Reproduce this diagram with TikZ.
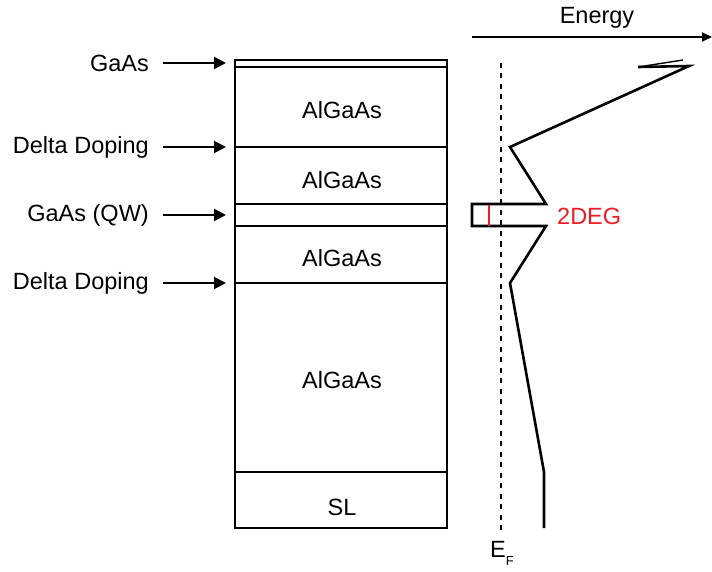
\documentclass[tikz,border=0pt]{standalone}
\usepackage{fontspec}
\setmainfont{Liberation Sans}
\usepackage{tikz}
\usetikzlibrary{arrows.meta,positioning}
\definecolor{degred}{RGB}{237,28,36}

\begin{document}
\begin{tikzpicture}[x=1pt,y=-1pt,line width=2.4pt,
  lbl/.style={font=\fontsize{23.5}{27}\selectfont,inner sep=0pt},
  pointer/.style={-{Triangle[length=12pt,width=12pt]},line width=2pt,shorten <=13pt},
  band/.style={line width=2.6pt,line join=miter}]
\useasboundingbox (0,0) rectangle (712,572);
% layer stack
\draw (235,60) rectangle (447,528);
\foreach\y in {67,147,204,226,283,472}
  \draw (235,\y) -- (447,\y);
\foreach\y/\txt in {110/AlGaAs,180/AlGaAs,258/AlGaAs,380/AlGaAs,507/SL}
  \node[lbl] at (342,\y) {\txt};
% labels on the left
\foreach\i/\y/\txt in {1/63/GaAs,2/147/Delta Doping,3/215/GaAs (QW),4/283/Delta Doping}{
  \node[lbl,anchor=east] (lab\i) at (150,\y) {\txt};
  \coordinate (tip\i) at (226,\y);
  \draw[pointer] (lab\i.east) -- (tip\i);
}
% energy axis
\node[lbl] (energy) at (597,18) {Energy};
\coordinate (ax0) at (472,37);
\coordinate (ax1) at (712,37);
\draw[-{Triangle[length=10pt,width=9pt]},line width=2pt] (ax0) -- (ax1);
% Fermi level
\coordinate (ef0) at (501,63);
\coordinate (ef1) at (501,530);
\draw[line width=2.6pt,dash pattern=on 5pt off 5.5pt] (ef0) -- (ef1);
\node[lbl] (ef) at (502,553) {E\raisebox{-8pt}{\fontsize{13}{15}\selectfont F}};
% conduction band
\draw[band] (544,528) -- (544,472) -- (510,283) -- (546,226) -- (472,226)
  -- (472,204) -- (546,204) -- (510,147) -- (689,66) -- (638,67);
\draw[line width=1.4pt] (638,67) -- (683,60);
% 2DEG
\draw[degred,line width=2.8pt] (489,205) -- (489,226);
\node[lbl,text=degred,anchor=west] (deg) at (556,216) {2DEG};
\end{tikzpicture}
\end{document}
